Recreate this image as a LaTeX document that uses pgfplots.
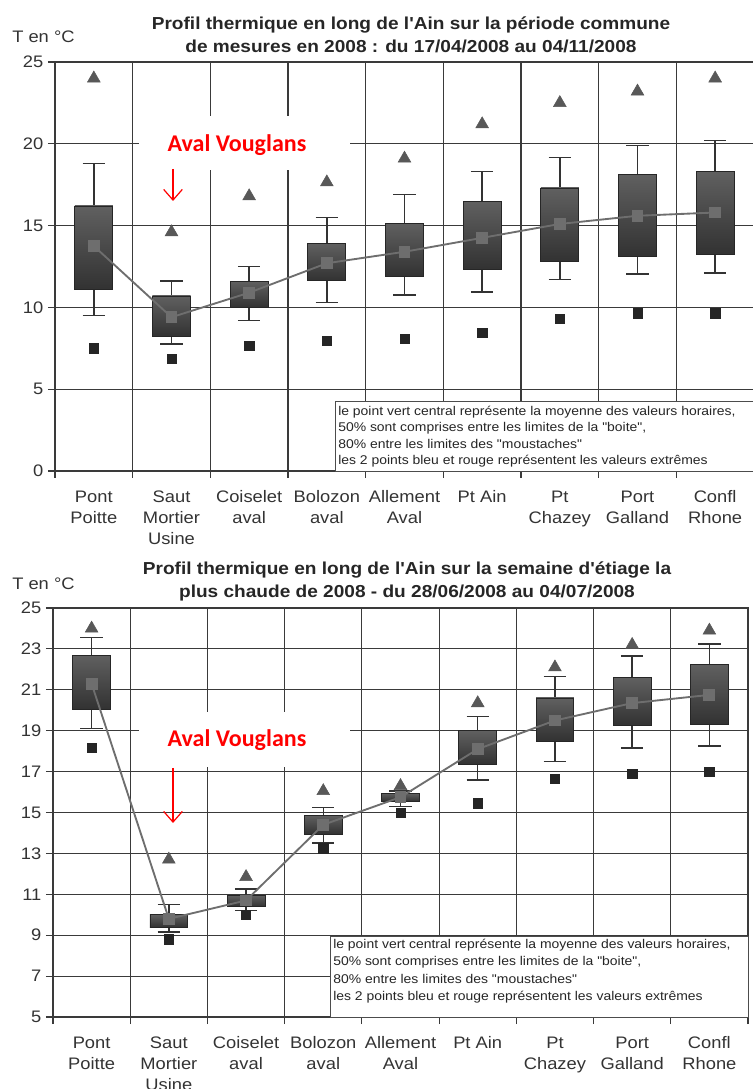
\documentclass[border=0pt]{standalone}
\usepackage{fontspec}
\setmainfont{Liberation Sans}[FakeStretch=1.1, Ligatures=TeXOff]
\newfontfamily\calibri{Carlito}
\usepackage{pgfplots}
\pgfplotsset{compat=1.18}
\usepgfplotslibrary{statistics}
\usetikzlibrary{arrows.meta}

\definecolor{gridc}{HTML}{3A3A3A}
\definecolor{meanc}{HTML}{6E6E6E}
\definecolor{maxc}{HTML}{585858}
\definecolor{minc}{HTML}{252525}
\definecolor{boxtop}{HTML}{606060}
\definecolor{boxbot}{HTML}{323232}

\pgfplotsset{
  chart/.style={
    scale only axis,
    height=306.75pt,
    xmin=-0.5, xmax=8.5,
    axis line style={gridc, line width=0.9pt},
    grid=major,
    major grid style={gridc, line width=0.9pt},
    xtick={-0.5,0.5,...,8.5},
    xticklabels={},
    extra x ticks={0,1,2,3,4,5,6,7,8},
    extra x tick labels={{Pont\\Poitte},{Saut\\Mortier\\Usine},{Coiselet\\aval},{Bolozon\\aval},{Allement\\Aval},{Pt Ain},{Pt\\Chazey},{Port\\Galland},{Confl\\Rhone}},
    extra x tick style={grid=none, tick style={draw=none}},
    tick align=outside,
    tick pos=left,
    major tick length=5.25pt,
    tick style={gridc, line width=0.9pt},
    xticklabel style={align=center, anchor=north, yshift=-6pt, font=\fontsize{12.5}{15.75}\selectfont, text=black!80},
    yticklabel style={font=\fontsize{12.5}{15}\selectfont, text=black!80},
    /pgf/number format/assume math mode=true,
    boxplot/draw direction=y,
    boxplot/box extend=0.49,
    boxplot/whisker extend=0.29,
    boxplot/every box/.style={draw=black!85, line width=0.6pt, top color=boxtop, bottom color=boxbot},
    boxplot/every whisker/.style={black!80, line width=1.1pt},
    boxplot/draw/median/.code={},
  },
  meanline/.style={color=meanc, line width=1.4pt, mark=square*, mark size=3.75pt, mark options={fill=meanc, draw=meanc}},
  maxpts/.style={only marks, mark=triangle*, mark size=5.5pt, mark options={fill=maxc, draw=maxc}},
  minpts/.style={only marks, mark=square*, mark size=3.5pt, mark options={fill=minc, draw=minc}},
}

\begin{document}
\begin{tikzpicture}
\useasboundingbox (0,0) rectangle (564.75pt,816.75pt);

% ---------------- Top chart ----------------
\begin{axis}[chart,
  at={(41.25pt,463.5pt)}, anchor=south west,
  width=524.25pt,
  ymin=0, ymax=25, ytick={0,5,10,15,20,25},
]
\addplot[boxplot prepared={draw position=0, lower whisker=9.5,  lower quartile=11.1,  median=13.75, upper quartile=16.2,  upper whisker=18.8}] coordinates {};
\addplot[boxplot prepared={draw position=1, lower whisker=7.75, lower quartile=8.25,  median=9.4,   upper quartile=10.7,  upper whisker=11.6}] coordinates {};
\addplot[boxplot prepared={draw position=2, lower whisker=9.2,  lower quartile=10.0,  median=10.9,  upper quartile=11.6,  upper whisker=12.5}] coordinates {};
\addplot[boxplot prepared={draw position=3, lower whisker=10.3, lower quartile=11.65, median=12.7,  upper quartile=13.9,  upper whisker=15.5}] coordinates {};
\addplot[boxplot prepared={draw position=4, lower whisker=10.75,lower quartile=11.9,  median=13.4,  upper quartile=15.15, upper whisker=16.9}] coordinates {};
\addplot[boxplot prepared={draw position=5, lower whisker=10.95,lower quartile=12.35, median=14.25, upper quartile=16.5,  upper whisker=18.3}] coordinates {};
\addplot[boxplot prepared={draw position=6, lower whisker=11.7, lower quartile=12.8,  median=15.1,  upper quartile=17.3,  upper whisker=19.15}] coordinates {};
\addplot[boxplot prepared={draw position=7, lower whisker=12.05,lower quartile=13.1,  median=15.6,  upper quartile=18.15, upper whisker=19.9}] coordinates {};
\addplot[boxplot prepared={draw position=8, lower whisker=12.1, lower quartile=13.25, median=15.8,  upper quartile=18.3,  upper whisker=20.2}] coordinates {};
\addplot[meanline] coordinates {(0,13.75) (1,9.4) (2,10.9) (3,12.7) (4,13.4) (5,14.25) (6,15.1) (7,15.6) (8,15.8)};
\addplot[maxpts] coordinates {(0,24.0) (1,14.6) (2,16.8) (3,17.65) (4,19.1) (5,21.2) (6,22.5) (7,23.2) (8,24.0)};
\addplot[minpts] coordinates {(0,7.5) (1,6.85) (2,7.65) (3,7.95) (4,8.1) (5,8.45) (6,9.3) (7,9.65) (8,9.65)};
\end{axis}

% ---------------- Bottom chart ----------------
\begin{axis}[chart,
  at={(39.75pt,54pt)}, anchor=south west,
  width=521.25pt,
  ymin=5, ymax=25, ytick={5,7,...,25},
]
\addplot[boxplot prepared={draw position=0, lower whisker=19.1,  lower quartile=20.05, median=21.3,  upper quartile=22.7,  upper whisker=23.55}] coordinates {};
\addplot[boxplot prepared={draw position=1, lower whisker=9.15,  lower quartile=9.4,   median=9.8,   upper quartile=10.0,  upper whisker=10.5}] coordinates {};
\addplot[boxplot prepared={draw position=2, lower whisker=10.2,  lower quartile=10.4,  median=10.7,  upper quartile=10.95, upper whisker=11.25}] coordinates {};
\addplot[boxplot prepared={draw position=3, lower whisker=13.5,  lower quartile=13.95, median=14.4,  upper quartile=14.85, upper whisker=15.25}] coordinates {};
\addplot[boxplot prepared={draw position=4, lower whisker=15.3,  lower quartile=15.55, median=15.75, upper quartile=15.95, upper whisker=16.05}] coordinates {};
\addplot[boxplot prepared={draw position=5, lower whisker=16.6,  lower quartile=17.35, median=18.1,  upper quartile=19.0,  upper whisker=19.7}] coordinates {};
\addplot[boxplot prepared={draw position=6, lower whisker=17.5,  lower quartile=18.5,  median=19.5,  upper quartile=20.6,  upper whisker=21.65}] coordinates {};
\addplot[boxplot prepared={draw position=7, lower whisker=18.15, lower quartile=19.25, median=20.35, upper quartile=21.6,  upper whisker=22.65}] coordinates {};
\addplot[boxplot prepared={draw position=8, lower whisker=18.25, lower quartile=19.3,  median=20.75, upper quartile=22.25, upper whisker=23.25}] coordinates {};
\addplot[meanline] coordinates {(0,21.3) (1,9.8) (2,10.7) (3,14.4) (4,15.75) (5,18.1) (6,19.5) (7,20.35) (8,20.75)};
\addplot[maxpts] coordinates {(0,24.0) (1,12.7) (2,11.85) (3,16.05) (4,16.3) (5,20.35) (6,22.1) (7,23.2) (8,23.9)};
\addplot[minpts] coordinates {(0,18.15) (1,8.8) (2,10.0) (3,13.25) (4,15.0) (5,15.45) (6,16.65) (7,16.9) (8,17.0)};
\end{axis}

% ---------------- Annotations (pixel coordinates) ----------------
\begin{scope}[x=0.75pt, y=-0.75pt, shift={(0pt,816.75pt)}]
  % titles
  \node[anchor=base, font=\bfseries\fontsize{13}{16}\selectfont, text=black!85] at (411,30) {Profil thermique en long de l'Ain sur la période commune};
  \node[anchor=base, font=\bfseries\fontsize{13}{16}\selectfont, text=black!85] at (411,53) {de mesures en 2008 : du 17/04/2008 au 04/11/2008};
  \node[anchor=base, font=\bfseries\fontsize{13}{16}\selectfont, text=black!85] at (407,575) {Profil thermique en long de l'Ain sur la semaine d'étiage la};
  \node[anchor=base, font=\bfseries\fontsize{13}{16}\selectfont, text=black!85] at (407,598) {plus chaude de 2008 - du 28/06/2008 au 04/07/2008};
  % y labels
  \node[anchor=base west, inner sep=0pt, font=\fontsize{12.5}{15}\selectfont, text=black!80] at (12,43) {T en °C};
  \node[anchor=base west, inner sep=0pt, font=\fontsize{12.5}{15}\selectfont, text=black!80] at (12,590) {T en °C};
  % Aval Vouglans (top)
  \fill[white] (139,116) rectangle (350,170);
  \node[text=red, font=\calibri\bfseries\fontsize{18}{20}\selectfont] at (237,145) {Aval Vouglans};
  \draw[red, line width=0.9pt, -{Straight Barb[length=8pt,width=14pt]}] (173,169) -- (173,201);
  % Aval Vouglans (bottom)
  \fill[white] (139,712) rectangle (350,767);
  \node[text=red, font=\calibri\bfseries\fontsize{18}{20}\selectfont] at (237,740) {Aval Vouglans};
  \draw[red, line width=0.9pt, -{Straight Barb[length=8pt,width=14pt]}] (173,768) -- (173,823);
  % note boxes
  \draw[fill=white, draw=black!70, line width=0.7pt] (335,401) rectangle (756,471);
  \node[anchor=north west, align=left, inner sep=0pt, font=\fontsize{9.5}{12.2}\selectfont, text=black!85] at (338,406)
   {le point vert central représente la moyenne des valeurs horaires,\\50\% sont comprises entre les limites de la "boite",\\80\% entre les limites des "moustaches"\\les 2 points bleu et rouge représentent les valeurs extrêmes};
  \draw[fill=white, draw=black!70, line width=0.7pt] (330,936) rectangle (748,1017);
  \node[anchor=north west, align=left, inner sep=0pt, font=\fontsize{9.5}{13}\selectfont, text=black!85] at (333,939)
   {le point vert central représente la moyenne des valeurs horaires,\\50\% sont comprises entre les limites de la "boite",\\80\% entre les limites des "moustaches"\\les 2 points bleu et rouge représentent les valeurs extrêmes};
\end{scope}
\end{tikzpicture}
\end{document}
